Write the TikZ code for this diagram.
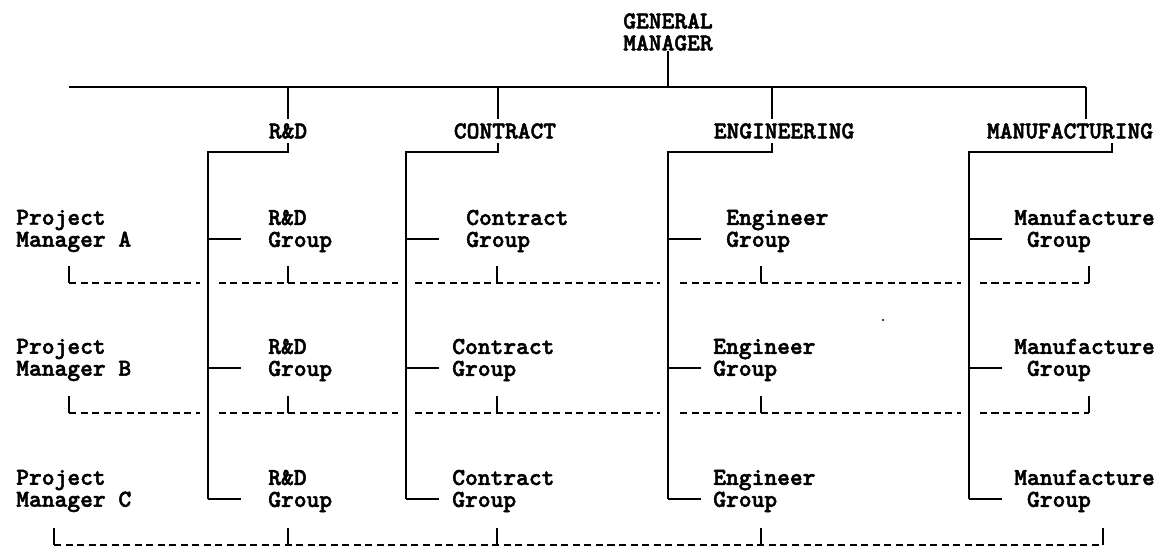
\documentclass[tikz,border=0pt]{standalone}
\usepackage{fontspec}
\newfontfamily\orgfont[Extension=.otf, FakeBold=2]{lmmonolt10-bold}
\usepackage{tikz}
\usetikzlibrary{positioning,calc}
\tikzset{
  org/.style={font=\orgfont\fontsize{17.3}{15.6}\selectfont, inner sep=0pt, align=left},
  dept/.style={org, minimum height=.6cm},
  ln/.style={line width=1.2pt},
  dl/.style={line width=1.2pt, dash pattern=on 5pt off 3.2pt},
  gap/.style={line width=12pt, draw=white},
}

\begin{document}
\begin{tikzpicture}[x=0.025cm, y=-0.025cm]
  \useasboundingbox (0,0) rectangle (1164,550);

  % top of the chart
  \node[org, align=center] (gm) at (668,32) {GENERAL\\MANAGER};
  \coordinate (barL) at (69,87);
  \coordinate (barR) at (1086,87);
  \draw[ln] (gm.south) -- (gm.south |- barL);
  \draw[ln] (barL) -- (barR);

  % project manager rows and dashed lines
  \foreach \r/\yc/\yd/\xl/\xr/\cx/\ex in {A/231/283/69/1089/466/726, B/360/413/69/1089/452/713, C/491/545/54/1103/452/713}{
    \node[org, anchor=west] (pm\r) at (16,\yc) {Project\\Manager \r};
    \node[org, anchor=west] (rd\r) at (268,\yc) {R\&D\\Group};
    \node[org, anchor=west] (con\r) at (\cx,\yc) {Contract\\Group};
    \node[org, anchor=west] (eng\r) at (\ex,\yc) {Engineer\\Group};
    \node[org, anchor=west] (man\r) at (1014,\yc) {Manufacture\\~Group};
    \coordinate (d\r W) at (\xl,\yd);
    \coordinate (d\r E) at (\xr,\yd);
    \draw[dl] (d\r W) -- (d\r E);
    \draw[ln] (d\r W) -- ++(0,-17);
    \draw[ln] (d\r E) -- ++(0,-17);
    \foreach \tx in {288,497,761} \draw[ln] (d\r W -| \tx,0) -- ++(0,-17);
  }

  % departments and their groups
  \foreach \nm/\txt/\cx/\up/\lo/\bus in {rd/R\&D/288/288/288/208, con/CONTRACT/505/498/498/406, eng/ENGINEERING/784/772/772/668, man/MANUFACTURING/1070/1086/1112/969}{
    \node[dept] (\nm) at (\cx,131) {\txt};
    \coordinate (\nm bus) at (\bus,152);
    \draw[gap] (\nm bus) -- ($(\nm bus |- \nm C.west)+(0,8)$);
    \draw[ln] (barL -| \up,0) -- (\nm.north -| \up,0);
    \draw[ln] (\nm.south -| \lo,0) |- (\nm bus) -- ($(\nm bus |- \nm C.west)+(0,8)$);
    \foreach \r in {A,B,C} \draw[ln] ($(\nm bus |- \nm\r.west)+(0,8)$) -- ++(33,0);
  }

  \fill (883,320) circle (1.2);
\end{tikzpicture}
\end{document}
